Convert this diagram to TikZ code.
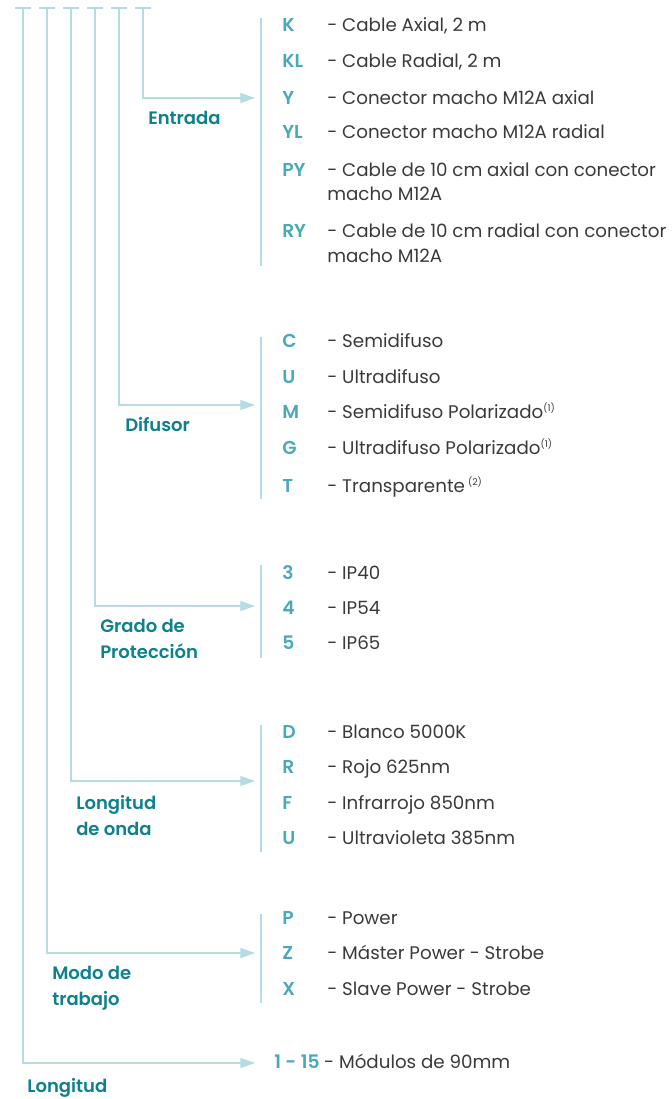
\documentclass[tikz,border=0pt]{standalone}
\usepackage{fontspec}
\setmainfont{Poppins}[BoldFont={Poppins SemiBold}]
\usetikzlibrary{arrows.meta,positioning}
\definecolor{guidecyan}{RGB}{179,221,227}
\definecolor{groupteal}{RGB}{14,128,142}
\definecolor{codeteal}{RGB}{74,169,184}
\definecolor{desctext}{RGB}{58,58,58}
\newcommand{\notemark}[1]{\textsuperscript{\fontsize{7}{7}\selectfont(#1)}}

\begin{document}
\begin{tikzpicture}[x=0.75pt,y=-0.75pt,>={Triangle[length=11pt,width=7.5pt]},
 every node/.style={inner sep=0pt,font=\fontsize{13.7}{18}\selectfont},
 guide/.style={guidecyan,line width=0.9pt},
 code/.style={anchor=base west,text=codeteal,font=\fontsize{14}{18}\selectfont\bfseries},
 desc/.style={anchor=base west,text=desctext,align=left},
 group/.style={anchor=north west,text=groupteal,align=left,font=\fontsize{13.5}{19.5}\selectfont\bfseries}]
\useasboundingbox (0,0) rectangle (671,1099);
% stems from the top ticks down to each option list
\foreach \n/\x/\y in {entrada/143/98,difusor/119/405,grado/95/606,onda/71/781,modo/47/953,longitud/23/1063}{
 \coordinate (top-\n) at (\x,8);
 \coordinate (tip-\n) at (255,\y);
 \draw[guide] ([xshift=-6pt]top-\n) -- ([xshift=6pt]top-\n);
 \draw[guide,->] (top-\n) |- (tip-\n);}
% brackets in front of the lists
\foreach \n/\a/\b in {entrada/18/266,difusor/337/499,grado/565/658,onda/725/852,modo/914/1003}{
 \coordinate (bt-\n) at (261,\a);\coordinate (bb-\n) at (261,\b);
 \draw[guide] (bt-\n) -- (bb-\n);}
% group names
\node[group] (g-entrada) at (148,111) {Entrada};
\node[group] (g-difusor) at (125,417) {Difusor};
\node[group] (g-grado) at (100,619) {Grado de\\Protección};
\node[group] (g-onda) at (76,795) {Longitud\\de onda};
\node[group] (g-modo) at (52,966) {Modo de\\trabajo};
\node[group] (g-longitud) at (27,1078) {Longitud};
% option codes and what they stand for
\foreach \c/\d/\y in {K/{- Cable Axial, 2 m}/26,KL/{- Cable Radial, 2 m}/62,Y/{- Conector macho M12A axial}/98,
 YL/{- Conector macho M12A radial}/132,PY/{- Cable de 10 cm axial con conector}/170,RY/{- Cable de 10 cm radial con conector}/231,
 C/{- Semidifuso}/341,U/{- Ultradifuso}/377,M/{- Semidifuso Polarizado\notemark{1}}/412,
 G/{- Ultradifuso Polarizado\notemark{1}}/448,T/{- Transparente\,\notemark{2}}/486,
 3/{- IP40}/573,4/{- IP54}/608,5/{- IP65}/643,
 D/{- Blanco 5000K}/732,R/{- Rojo 625nm}/767,F/{- Infrarrojo 850nm}/803,U/{- Ultravioleta 385nm}/838,
 P/{- Power}/918,Z/{- Máster Power - Strobe}/953,X/{- Slave Power - Strobe}/989}{
 \node[code] (c\y) at (282,\y+6) {\c};
 \node[desc] (d\y) at (327,\y+6) {\d};}
\node[desc] (d194) at (327,200) {macho M12A};
\node[desc] (d256) at (327,262) {macho M12A};
\node[code] (c1063) at (274,1068) {1 - 15};
\node[desc,right=3pt of c1063.base east,anchor=base west] (d1063) {- Módulos de 90mm};
\end{tikzpicture}
\end{document}
